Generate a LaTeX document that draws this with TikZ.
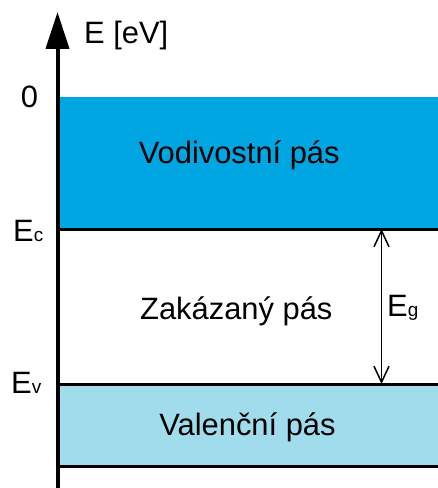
\documentclass[tikz,border=0pt]{standalone}
\usepackage{fontspec}
\setmainfont{Liberation Sans}
\usetikzlibrary{arrows.meta}
\definecolor{cband}{RGB}{0,166,226}
\definecolor{vband}{RGB}{160,220,235}
\begin{document}
\begin{tikzpicture}[x=1bp,y=-1bp,
  lbl/.style={inner sep=0,font=\fontsize{31}{37}\selectfont},
  subs/.style={font=\fontsize{19}{22}\selectfont},
  band/.style={draw=none,inner sep=0,anchor=north west,minimum width=380bp},
  level/.style={line width=3bp},
  gap/.style={line width=1.5bp,{Straight Barb[length=16bp,width=15bp]}-{Straight Barb[length=16bp,width=15bp]}}]
\useasboundingbox (0,0) rectangle (438,488);
% bands
\node[band,fill=cband,minimum height=132bp] (cb) at (58,97) {};
\node[band,fill=vband,minimum height=82bp] (vb) at (58,384) {};
\draw[level] (cb.south west) -- (cb.south east);
\draw[level] (vb.north west) -- (vb.north east);
\draw[level] (vb.south west) -- (vb.south east);
% axis
\coordinate (ax0) at (57.5,488);
\coordinate (ax1) at (57.5,12);
\draw[line width=4bp,-{Triangle[length=37bp,width=23bp]}] (ax0) -- (ax1);
% band gap arrow
\coordinate (ec) at (381.5,229);
\coordinate (ev) at (381.5,384);
\draw[gap] (ec) -- (ev);
% labels
\node[lbl,anchor=base west] (elab) at (84,43.3) {E [eV]};
\node[lbl,anchor=base] (zero) at (29.5,108) {0};
\node[lbl,anchor=base west] (eclab) at (13,241.7) {E{\fontsize{19}{22}\selectfont c}};
\node[lbl,anchor=base west] (evlab) at (11,393.3) {E{\fontsize{19}{22}\selectfont v}};
\node[lbl,anchor=base west] (eglab) at (387,316.7) {E{\fontsize{19}{22}\selectfont g}};
\node[lbl,anchor=base] (ctext) at (239.2,163.3) {Vodivostní pás};
\node[lbl,anchor=base] (gtext) at (236.3,319.3) {Zakázaný pás};
\node[lbl,anchor=base] (vtext) at (247.5,435) {Valenční pás};
\end{tikzpicture}
\end{document}
